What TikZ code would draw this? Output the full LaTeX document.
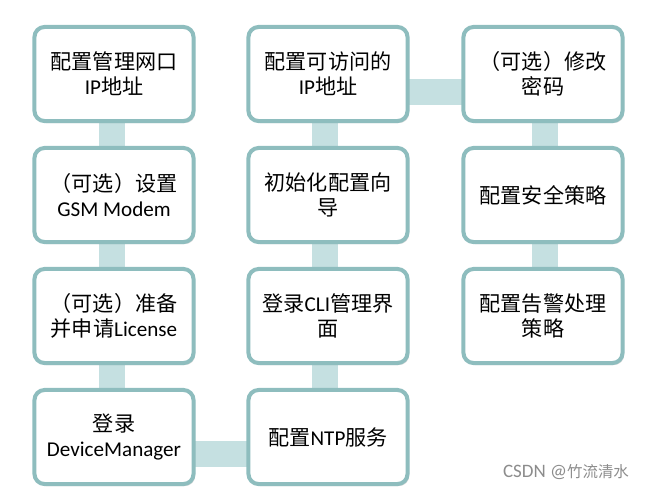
\documentclass[tikz,border=0pt]{standalone}
\usepackage{fontspec}
\setmainfont{Noto Sans CJK SC}
\newfontfamily\lat{Carlito}
\usetikzlibrary{backgrounds,shadows}
\definecolor{boxline}{RGB}{142,189,190}
\definecolor{linkbar}{RGB}{197,224,225}
\tikzset{
  stepbox/.style={draw=boxline, line width=0.1cm, rounded corners=0.25cm, fill=white,
    minimum width=3.975cm, minimum height=2.35cm, align=center, inner sep=2pt,
    font=\fontsize{15}{18}\selectfont,
    drop shadow={opacity=0.3, shadow xshift=0.04cm, shadow yshift=-0.05cm}},
  link/.style={draw=linkbar, line width=0.65cm}
}
\begin{document}
\begin{tikzpicture}[x=0.025cm,y=-0.025cm]
\useasboundingbox (0,0) rectangle (650,493);
% first column, top to bottom
\node[stepbox] (mgmtip) at (114,74) {配置管理网口\\{\lat IP}地址};
\node[stepbox] (gsm) at (114,195) {（可选）设置\\{\lat GSM Modem}};
\node[stepbox] (license) at (114,316) {（可选）准备\\并申请{\lat License}};
\node[stepbox] (devmgr) at (114,437) {登录\\{\lat DeviceManager}};
% second column, bottom to top
\node[stepbox] (ntp) at (328,437) {配置{\lat NTP}服务};
\node[stepbox] (cli) at (328,316) {登录{\lat CLI}管理界\\面};
\node[stepbox] (wizard) at (328,195) {初始化配置向\\导};
\node[stepbox] (accip) at (328,74) {配置可访问的\\{\lat IP}地址};
% third column, top to bottom
\node[stepbox] (passwd) at (543,74) {（可选）修改\\密码};
\node[stepbox] (secpol) at (543,195) {配置安全策略};
\node[stepbox] (alarm) at (543,316) {配置告警处理\\策略};
\node[text=black!45, font=\fontsize{11}{12}\selectfont] (mark) at (566,472) {{\lat\fontsize{13.5}{12}\selectfont CSDN @}竹流清水};
\begin{scope}[on background layer]
\draw[link] ([xshift=-0.05cm]mgmtip.center) -- ([xshift=-0.05cm]devmgr.center);
\draw[link] ([yshift=-0.43cm]devmgr.center) -- ([yshift=-0.43cm]ntp.center);
\draw[link] ([xshift=-0.07cm]ntp.center) -- ([xshift=-0.07cm]accip.center);
\draw[link] ([yshift=-0.46cm]accip.center) -- ([yshift=-0.46cm]passwd.center);
\draw[link] ([xshift=0.05cm]passwd.center) -- ([xshift=0.05cm]alarm.center);
\end{scope}
\end{tikzpicture}
\end{document}
